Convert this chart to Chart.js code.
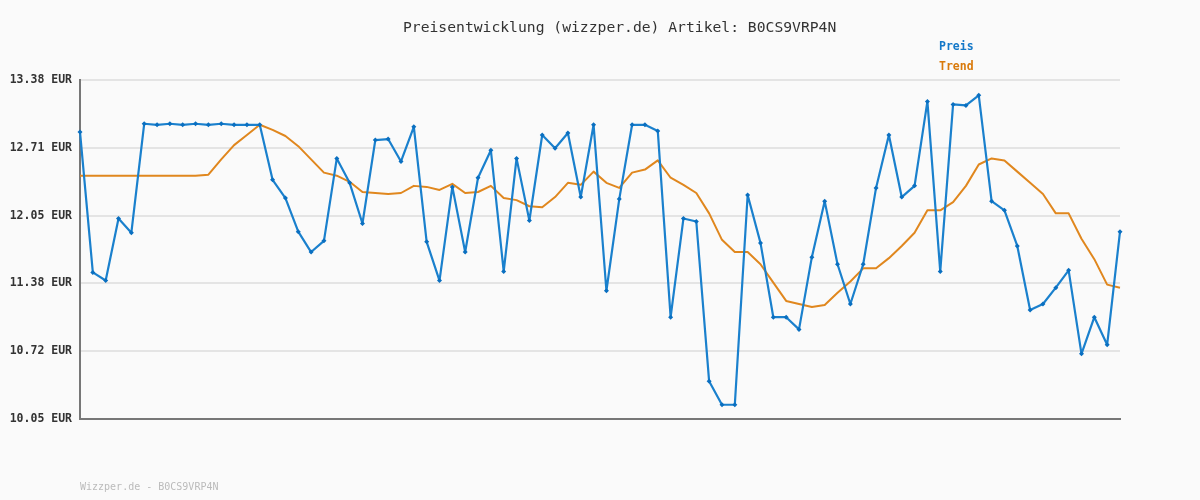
<!DOCTYPE html>
<html>
<head>
<meta charset="utf-8">
<script src="https://cdn.jsdelivr.net/npm/chart.js@4/dist/chart.umd.min.js"></script>
<style>
  html, body { margin: 0; padding: 0; background: #fafafa; }
  canvas { display: block; }
</style>
</head>
<body>
<canvas id="chart" width="1200" height="500"></canvas>
<script>
// Preis (blue) and Trend (orange), one value per sample
const preis = [
  12.87, 11.49, 11.41, 12.02, 11.88, 12.95, 12.94, 12.95, 12.94, 12.95,
  12.94, 12.95, 12.94, 12.94, 12.94, 12.40, 12.22, 11.89, 11.69, 11.80,
  12.61, 12.37, 11.97, 12.79, 12.80, 12.58, 12.92, 11.79, 11.41, 12.33,
  11.69, 12.42, 12.69, 11.50, 12.61, 12.00, 12.84, 12.71, 12.86, 12.23,
  12.94, 11.31, 12.21, 12.94, 12.94, 12.88, 11.05, 12.02, 11.99, 10.42,
  10.19, 10.19, 12.25, 11.78, 11.05, 11.05, 10.93, 11.64, 12.19, 11.57,
  11.18, 11.57, 12.32, 12.84, 12.23, 12.34, 13.17, 11.50, 13.14, 13.13,
  13.23, 12.19, 12.10, 11.75, 11.12, 11.18, 11.34, 11.51, 10.69, 11.05,
  10.78, 11.89
];
const trend = [
  12.44, 12.44, 12.44, 12.44, 12.44, 12.44, 12.44, 12.44, 12.44, 12.44,
  12.45, 12.60, 12.74, 12.84, 12.94, 12.89, 12.83, 12.73, 12.60, 12.47,
  12.44, 12.38, 12.28, 12.27, 12.26, 12.27, 12.34, 12.33, 12.30, 12.36,
  12.27, 12.28, 12.34, 12.22, 12.20, 12.14, 12.13, 12.23, 12.37, 12.35,
  12.48, 12.37, 12.32, 12.47, 12.50, 12.59, 12.42, 12.35, 12.27, 12.07,
  11.81, 11.69, 11.69, 11.57, 11.39, 11.21, 11.18, 11.15, 11.17, 11.29,
  11.40, 11.53, 11.53, 11.63, 11.75, 11.88, 12.10, 12.10, 12.18, 12.34,
  12.55, 12.61, 12.59, 12.48, 12.37, 12.26, 12.07, 12.07, 11.82, 11.62,
  11.37, 11.34
];
const labels = preis.map((_, i) => String(i + 1));
const yTicks = [10.05, 10.716, 11.382, 12.048, 12.714, 13.38];

const titleText = "Preisentwicklung (wizzper.de) Artikel: B0CS9VRP4N";
const footerText = "Wizzper.de - B0CS9VRP4N";
const seriesNames = ["Preis", "Trend"];

const BLUE = "#1a80cd";
const ORANGE = "#e0871e";

// title, legend and footer drawn at fixed spots like the original image
const textPlugin = {
  id: "texts",
  afterDraw(chart) {
    const ctx = chart.ctx;
    ctx.save();
    ctx.textBaseline = "middle";
    ctx.font = "14.7px 'DejaVu Sans Mono', monospace";
    ctx.fillStyle = "#333";
    ctx.textAlign = "left";
    ctx.fillText(titleText, 403, 28);

    ctx.font = "bold 11.5px 'DejaVu Sans Mono', monospace";
    ctx.fillStyle = "#1478c8";
    ctx.fillText(seriesNames[0], 939, 47);
    ctx.fillStyle = "#d97a0b";
    ctx.fillText(seriesNames[1], 939, 67);

    ctx.font = "10px 'DejaVu Sans Mono', monospace";
    ctx.fillStyle = "#bbb";
    ctx.fillText(footerText, 80, 487);
    ctx.restore();
  }
};

new Chart(document.getElementById("chart"), {
  type: "line",
  data: {
    labels: labels,
    datasets: [
      {
        label: seriesNames[0],
        data: preis,
        borderColor: BLUE,
        backgroundColor: "#0a6fc0",
        borderWidth: 2.2,
        borderJoinStyle: "round",
        pointStyle: "rectRot",
        pointRadius: 2.5,
        pointBorderWidth: 0,
        tension: 0,
        order: 0
      },
      {
        label: seriesNames[1],
        data: trend,
        borderColor: ORANGE,
        borderWidth: 2,
        borderJoinStyle: "round",
        pointRadius: 0,
        tension: 0,
        order: 1
      }
    ]
  },
  options: {
    responsive: false,
    animation: false,
    layout: { padding: { left: 0, top: 80, right: 80, bottom: 81 } },
    plugins: {
      legend: { display: false },
      title: { display: false },
      tooltip: { enabled: false }
    },
    scales: {
      x: {
        type: "category",
        offset: false,
        ticks: { display: false },
        grid: { display: false },
        border: { display: true, color: "#777", width: 2 },
        afterFit: (scale) => { scale.height = 0; }
      },
      y: {
        min: 10.05,
        max: 13.38,
        afterBuildTicks: (scale) => {
          scale.ticks = yTicks.map((v) => ({ value: v }));
        },
        afterFit: (scale) => { scale.width = 80; },
        ticks: {
          padding: 8,
          color: "#333",
          font: { family: "'DejaVu Sans Mono', monospace", size: 11.5, weight: "bold" },
          callback: (v) => Number(v).toFixed(2) + " EUR"
        },
        grid: { color: "#e4e4e4", lineWidth: 2, drawTicks: false },
        border: { display: true, color: "#777", width: 2 }
      }
    }
  },
  plugins: [textPlugin]
});
</script>
</body>
</html>
